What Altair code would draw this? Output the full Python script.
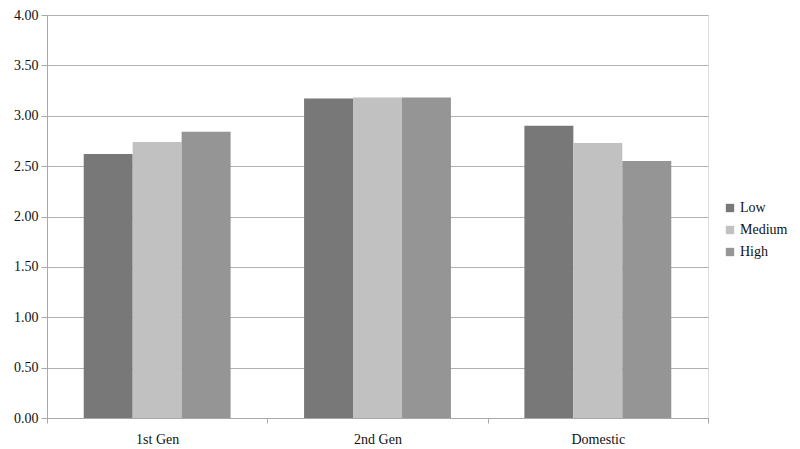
import altair as alt
import pandas as pd

categories = ["1st Gen", "2nd Gen", "Domestic"]
groups = ["Low", "Medium", "High"]
low_vals = [2.62, 3.17, 2.90]
medium_vals = [2.74, 3.18, 2.73]
high_vals = [2.84, 3.18, 2.55]
colors = ["#787878", "#c1c1c1", "#959595"]

rows = []
for i, c in enumerate(categories):
    for g, vals in zip(groups, [low_vals, medium_vals, high_vals]):
        rows.append({"category": c, "group": g, "value": vals[i]})
df = pd.DataFrame(rows)

font = "Liberation Serif, Times New Roman, Liberation Sans, sans-serif"

chart = alt.Chart(df).mark_bar().encode(
    x=alt.X("category:N", sort=categories, title=None,
            scale=alt.Scale(paddingInner=0, paddingOuter=0),
            axis=alt.Axis(labelAngle=0, tickBand="extent", tickSize=5,
                          domainColor="#a8a8a8", tickColor="#a8a8a8",
                          labelFont=font, labelFontSize=14, labelColor="#111",
                          labelPadding=9)),
    xOffset=alt.XOffset("group:N", sort=groups,
                        scale=alt.Scale(paddingInner=0, paddingOuter=0.75)),
    y=alt.Y("value:Q", title=None,
            scale=alt.Scale(domain=[0, 4]),
            axis=alt.Axis(values=[0, 0.5, 1, 1.5, 2, 2.5, 3, 3.5, 4], format=".2f",
                          tickSize=6, domainColor="#a8a8a8", tickColor="#a8a8a8",
                          gridColor="#b0b0b0", labelFont=font, labelFontSize=14,
                          labelColor="#111", labelPadding=3)),
    color=alt.Color("group:N", sort=groups,
                    scale=alt.Scale(domain=groups, range=colors),
                    legend=alt.Legend(title=None, orient="none", legendX=676, legendY=186,
                                      symbolType="square", symbolSize=70,
                                      symbolStrokeWidth=0,
                                      labelFont=font, labelFontSize=14, labelColor="#111",
                                      rowPadding=8, labelOffset=3)),
).properties(
    width=661, height=403,
    padding={"left": 39, "top": 7, "right": 84, "bottom": 31},
    autosize=alt.AutoSizeParams(type="none"),
).configure_view(stroke=None).configure(background="white", font=font)

chart.save("out.html", embed_options={"renderer": "svg", "actions": False})
